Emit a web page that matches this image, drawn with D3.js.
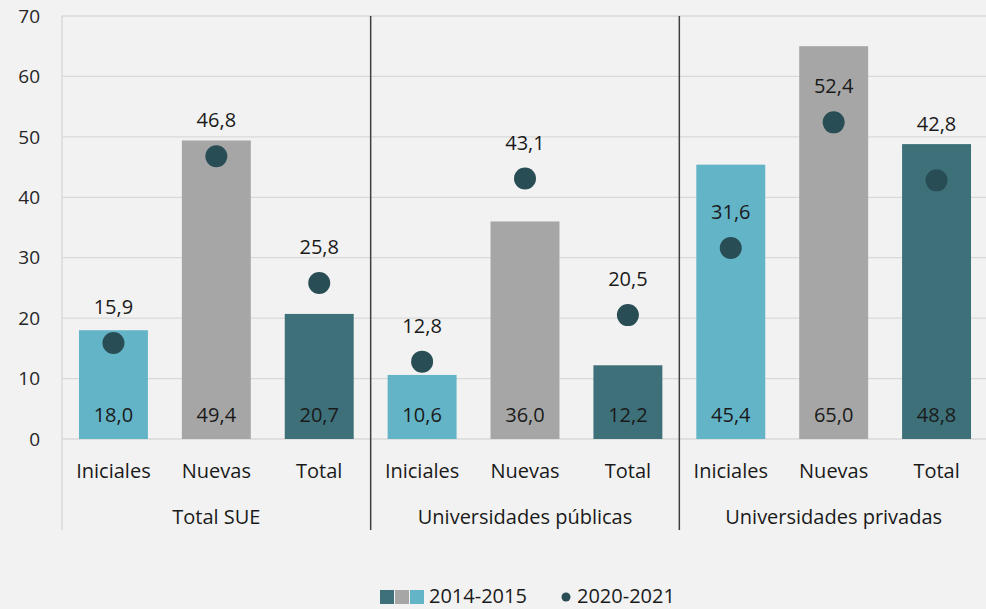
<!DOCTYPE html>
<html>
<head>
<meta charset="utf-8">
<script src="https://cdn.jsdelivr.net/npm/d3@7"></script>
<style>
  html, body { margin: 0; padding: 0; background: #f2f2f2; }
  svg { display: block; font-family: "Open Sans", "Noto Sans", sans-serif; }
</style>
</head>
<body>
<svg id="chart" width="986" height="609"></svg>
<script>
const groups = ["Total SUE", "Universidades públicas", "Universidades privadas"];
const categories = ["Iniciales", "Nuevas", "Total"];
const values2014 = [
  [18.0, 49.4, 20.7],
  [10.6, 36.0, 12.2],
  [45.4, 65.0, 48.8]
];
const values2020 = [
  [15.9, 46.8, 25.8],
  [12.8, 43.1, 20.5],
  [31.6, 52.4, 42.8]
];
const yTicks = [0, 10, 20, 30, 40, 50, 60, 70];
const seriesNames = ["2014-2015", "2020-2021"];

const barColors = { "Iniciales": "#63b4c7", "Nuevas": "#a6a6a6", "Total": "#3d7079" };
const dotColor = "#284d54";

const W = 986, H = 609;
const margin = { left: 62, right: -2, top: 16, bottom: 170 };
const x0 = margin.left, x1 = W - margin.right;
const yTop = margin.top, yBot = 439;

const svg = d3.select("#chart");
const fmt = v => d3.format(".1f")(v).replace(".", ",");

const xGroup = d3.scaleBand().domain(groups).range([x0, x1]).padding(0);
const xCat = d3.scaleBand().domain(categories).range([0, xGroup.bandwidth()]).paddingInner(0.33).paddingOuter(0.165);
const y = d3.scaleLinear().domain([0, 70]).range([yBot, yTop]);

// gridlines
svg.append("g").selectAll("line").data(yTicks).join("line")
  .attr("x1", x0).attr("x2", x1)
  .attr("y1", d => y(d)).attr("y2", d => y(d))
  .attr("stroke", "#d9d9d9").attr("stroke-width", 1.3);

// y tick labels
svg.append("g").selectAll("text").data(yTicks).join("text")
  .attr("x", 40).attr("y", d => y(d)).attr("dy", "0.35em")
  .attr("text-anchor", "end").attr("font-size", 19).attr("fill", "#262626")
  .text(d => d);

// left axis line
svg.append("line").attr("x1", x0).attr("x2", x0).attr("y1", yTop).attr("y2", 530)
  .attr("stroke", "#d9d9d9").attr("stroke-width", 1.5);

// group separators
svg.append("g").selectAll("line").data(groups.slice(1)).join("line")
  .attr("x1", d => xGroup(d)).attr("x2", d => xGroup(d))
  .attr("y1", yTop).attr("y2", 530)
  .attr("stroke", "#404040").attr("stroke-width", 1.5);

const rows = [];
groups.forEach((g, gi) => categories.forEach((c, ci) => {
  rows.push({ g, c, v14: values2014[gi][ci], v20: values2020[gi][ci],
    cx: xGroup(g) + xCat(c) + xCat.bandwidth() / 2, bx: xGroup(g) + xCat(c) });
}));

// bars
svg.append("g").selectAll("rect").data(rows).join("rect")
  .attr("x", d => d.bx).attr("width", xCat.bandwidth())
  .attr("y", d => y(d.v14)).attr("height", d => y(0) - y(d.v14))
  .attr("fill", d => barColors[d.c]);

// bar labels
svg.append("g").selectAll("text").data(rows).join("text")
  .attr("x", d => d.cx).attr("y", y(0) - 17)
  .attr("text-anchor", "middle").attr("font-size", 20).attr("fill", "#1a1a1a")
  .text(d => fmt(d.v14));

// dots
svg.append("g").selectAll("circle").data(rows).join("circle")
  .attr("cx", d => d.cx).attr("cy", d => y(d.v20)).attr("r", 11)
  .attr("fill", dotColor);

// dot labels (moved above the bar when they would straddle its top edge)
function dotLabelY(d) {
  const base = y(d.v20) - 29;
  const barTop = y(d.v14);
  if (base > barTop - 12 && base < barTop + 20) return barTop - 13;
  return base;
}
svg.append("g").selectAll("text").data(rows).join("text")
  .attr("x", d => d.cx).attr("y", dotLabelY)
  .attr("text-anchor", "middle").attr("font-size", 20).attr("fill", "#1a1a1a")
  .text(d => fmt(d.v20));

// category labels
svg.append("g").selectAll("text").data(rows).join("text")
  .attr("x", d => d.cx).attr("y", 478)
  .attr("text-anchor", "middle").attr("font-size", 20).attr("fill", "#1a1a1a")
  .text(d => d.c);

// group labels
svg.append("g").selectAll("text").data(groups).join("text")
  .attr("x", d => xGroup(d) + xGroup.bandwidth() / 2).attr("y", 524)
  .attr("text-anchor", "middle").attr("font-size", 20).attr("fill", "#1a1a1a")
  .text(d => d);

// legend
const lg = svg.append("g");
const sqColors = [barColors["Total"], barColors["Nuevas"], barColors["Iniciales"]];
lg.selectAll("rect").data(sqColors).join("rect")
  .attr("x", (d, i) => 380 + i * 15).attr("y", 590).attr("width", 14).attr("height", 14)
  .attr("fill", d => d);
lg.append("text").attr("x", 429).attr("y", 603).attr("font-size", 20).attr("fill", "#1a1a1a")
  .text(seriesNames[0]);
lg.append("circle").attr("cx", 566).attr("cy", 597).attr("r", 4.5).attr("fill", dotColor);
lg.append("text").attr("x", 577).attr("y", 603).attr("font-size", 20).attr("fill", "#1a1a1a")
  .text(seriesNames[1]);
</script>
</body>
</html>
